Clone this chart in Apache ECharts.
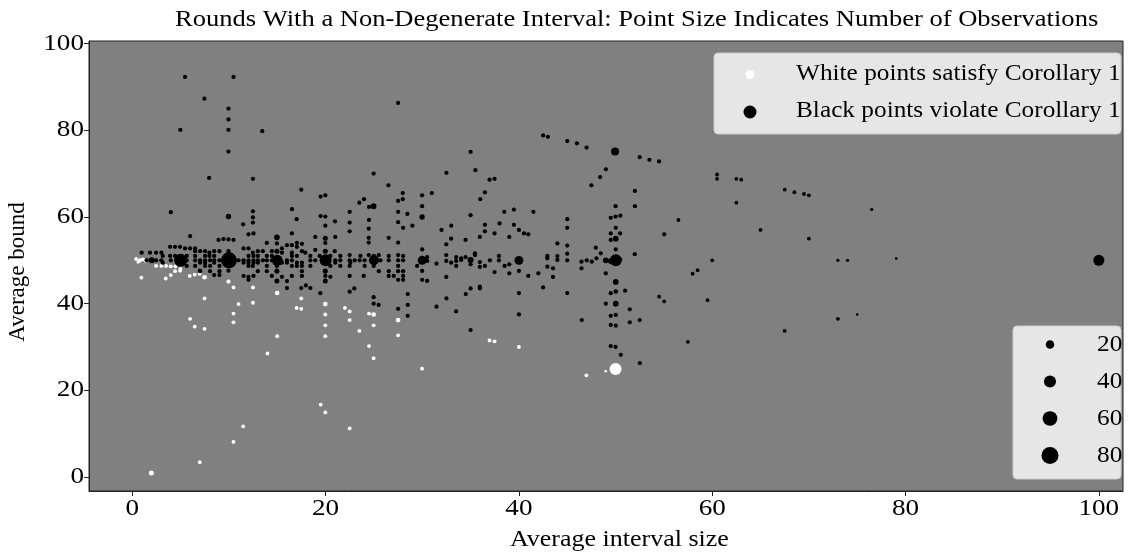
<!DOCTYPE html>
<html>
<head>
<meta charset="utf-8">
<script src="https://cdn.jsdelivr.net/npm/echarts@6/dist/echarts.min.js"></script>
<style>html,body{margin:0;padding:0;background:#fff}#c{width:1135px;height:553px}</style>
</head>
<body>
<div id="c"></div>
<script>
// [average interval size, average bound, number of observations]
const whitePoints = [
[0.4,50.3,4],[0.8,50.0,5],[1.1,50.2,4],[1.4,49.8,3],[0.6,49.6,3],
[2.46,48.7,4],[3.01,48.7,4],[3.49,48.7,4],[3.98,48.6,4],[4.46,48.6,4],[4.42,47.5,4],[4.94,47.6,4],[4.98,48.0,4],
[0.94,46.0,4],[3.46,45.8,4],[3.98,46.6,4],[5.94,46.4,4],[6.46,46.7,4],[6.98,46.9,4],[7.47,46.1,6],
[7.47,41.2,4],[5.98,36.5,4],[6.46,34.7,4],[7.47,34.2,4],[9.95,45.1,5],[10.47,43.75,4],[10.99,39.9,4],[10.47,37.7,4],[10.47,35.7,4],
[12.48,43.75,4],[12.48,40.2,4],[14.99,42.45,6],[14.99,32.5,4],[13.99,28.5,4],[17.0,39.0,4],[17.48,38.8,4],[17.48,41.2,4],
[19.97,39.9,6],[19.97,37.5,4],[19.97,35.0,4],[19.97,32.5,4],[19.49,16.7,4],[19.97,14.9,4],[11.47,11.7,4],[10.47,8.1,4],[6.98,3.4,4],[1.97,0.9,7],
[22.0,39.0,4],[22.49,38.2,4],[22.49,36.2,4],[23.49,33.7,4],[24.49,37.7,4],[24.97,37.5,6],[24.97,35.0,4],[24.49,30.2,4],[24.97,27.4,4],
[27.5,36.2,6],[27.5,32.7,4],[29.98,25.0,4],[36.96,31.5,4],[37.48,31.3,4],[40.0,30.0,4],[46.98,23.45,4],[22.49,11.2,4],
[50.0,24.9,40],[48.98,24.4,2]
];
const blackPoints = [
// upper scatter
[5.46,92.3,5],[10.47,92.3,5],[7.46,87.3,5],[9.95,85.0,5],[9.95,82.5,5],[4.97,80.1,5],[9.95,80.1,5],[13.44,79.8,5],[9.95,75.1,5],
[7.95,69.0,5],[12.48,68.8,5],[17.48,66.3,5],[19.48,64.7,5],[19.97,65.0,5],[3.98,61.1,5],[9.95,60.1,8],[12.48,61.3,5],[12.48,59.9,5],
[12.48,58.7,5],[11.47,58.3,5],[16.52,61.8,5],[17.0,59.5,5],[19.48,60.2,5],[19.97,60.1,5],[19.97,58.0,5],[20.97,59.0,5],
[27.5,86.3,5],[42.5,78.8,5],[43.0,78.5,5],[45.0,77.5,5],[46.0,77.0,5],[47.0,76.0,5],[48.4,69.2,5],[47.5,67.3,5],[35.0,75.0,5],
[32.5,70.2,5],[35.5,70.8,5],[36.96,68.6,5],[37.48,68.8,5],[36.48,65.7,5],[36.0,64.1,5],[24.97,70.0,5],[26.5,67.3,5],[23.97,64.1,5],
[23.49,63.3,5],[24.97,62.5,9],[24.49,62.3,5],[22.49,61.2,5],[22.49,58.7,5],[27.5,63.7,5],[27.98,64.1,5],[27.98,65.5,5],[27.5,61.2,5],
[28.46,60.7,5],[27.5,58.8,5],[28.98,58.0,5],[29.98,65.0,5],[29.98,62.5,5],[29.98,60.0,8],[30.99,65.5,5],[24.49,59.3,5],[33.0,58.0,5],
[35.0,60.4,5],[36.48,58.2,5],[38.0,58.5,5],[38.48,61.2,5],[39.48,61.7,5],[39.48,58.2,5],[41.5,61.2,5],[45.0,59.5,5],
[49.95,75.1,18],[52.5,73.8,5],[53.5,73.2,5],[54.5,72.8,5],[49.0,71.0,5],[52.0,66.0,5],[52.0,62.5,5],[50.0,62.5,5],[49.5,59.8,5],
[50.0,60.1,5],[50.5,60.3,5],[56.5,59.3,4],[60.5,69.8,4],[60.5,68.8,4],[62.5,68.8,4],[63.0,68.6,4],[62.5,63.3,4],[65.0,57.0,4],
[67.5,66.3,4],[68.5,65.7,4],[69.5,65.3,4],[70.0,65.0,4],[70.0,55.0,4],[60.0,50.0,4],[73.0,50.0,3],[74.0,50.0,3],
[49.5,30.2,5],[50.0,30.0,5],[50.54,28.2,5],[52.51,26.3,5],[57.48,31.2,4],[67.5,33.7,4],[73.0,36.5,4],[75.0,37.5,2],[76.5,61.75,3],
[79.04,50.4,2],[100,50,34],
// band x >= 29.5
[31.99,57.0,5],[36.48,56.7,5],[37.48,56.2,5],[40.0,57.0,5],[40.52,56.2,5],[40.97,56.0,5],[45.0,57.5,5],[49.5,56.2,5],[50.02,57.5,5],
[50.47,56.2,5],[55.03,56.0,5],[32.99,55.0,5],[34.48,54.7,5],[35.96,55.4,5],[39.0,55.4,5],[49.5,54.7,5],[50.02,55.0,9],
[32.48,53.7,5],[43.98,53.9,5],[45.0,53.4,5],[47.95,52.9,5],[48.47,51.6,5],[50.02,52.5,5],[51.99,51.4,5],[29.99,52.5,5],
[35.45,51.6,5],[35.45,51.2,5],[37.93,51.0,5],[42.94,51.0,5],[42.94,50.45,5],[43.98,50.99,5],[48.02,50.45,5],
[29.99,50.0,22],[29.47,48.7,5],[30.51,50.76,5],[30.51,49.84,5],[31.47,49.22,5],[32.48,51.22,5],[32.48,49.84,5],[32.99,49.45,5],
[33.51,50.76,5],[33.51,49.84,5],[33.51,48.69,5],[34.03,50.45,5],[34.03,50.07,5],[34.48,50.76,5],[35.0,50.07,10],[35.0,49.07,5],
[35.96,49.6,5],[35.96,48.46,5],[36.48,48.69,5],[37.0,49.99,5],[37.48,47.3,5],[37.93,49.99,5],[38.52,48.69,5],[39.0,49.07,5],
[39.0,47.0,5],[40.0,49.99,22],[40.0,47.54,5],[40.97,46.39,5],[42.01,47.0,5],[42.94,48.53,5],[43.53,48.15,5],[43.53,46.16,5],
[43.98,50.07,5],[45.0,51.52,5],[45.0,49.99,5],[46.47,49.68,5],[46.47,48.15,5],[47.02,49.99,5],[47.54,49.68,5],[48.99,49.99,9],
[48.99,47.0,5],[49.5,49.84,9],[50.02,49.99,40],[50.47,50.22,5],
[29.99,47.54,5],[29.99,45.5,5],[30.51,45.24,5],[32.48,46.16,5],[50.02,45.0,9],[57.97,46.9,4],[58.49,47.7,4],[54.51,41.6,4],
[55.03,40.5,4],[59.52,40.8,4],[49.5,42.4,5],[50.02,42.8,6],[50.99,43.0,5],[48.99,40.0,5],[50.02,40.0,9],[51.47,38.7,5],
[49.5,37.2,5],[50.02,37.4,5],[51.47,35.7,5],[52.5,36.2,5],[49.5,35.1,5],[50.02,34.9,5],
[22.49,42.76,5],[22.97,43.5,5],[24.97,41.5,5],[24.97,40.0,5],[25.49,39.7,5],[28.5,42.2,5],[28.5,39.7,5],[28.5,37.2,5],[27.5,38.8,5],
[31.47,39.3,5],[32.5,41.2,5],[33.5,38.2,5],[34.5,42.2,5],[35.0,43.5,5],[35.96,43.9,5],[35.96,43.5,5],[35.0,33.9,5],[40.0,42.45,5],
[40.0,37.5,5],[42.5,43.75,5],[45.0,42.45,5],[46.5,36.2,5],
// band x < 29.5
[24.46,57.3,5],[28.02,57.5,5],[22.49,56.7,5],[12.02,56.0,5],[12.54,56.2,5],[16.51,56.2,5],[5.98,55.6,5],
[14.96,55.3,9],[18.93,55.4,5],[19.97,55.1,7],[21.0,55.4,5],[24.46,55.2,5],[26.53,55.2,5],
[8.92,54.7,5],[9.43,54.9,5],[9.95,54.8,5],[10.47,54.7,5],
[13.92,54.0,5],[14.96,53.9,5],[17.03,54.0,5],[17.55,53.8,5],[19.97,54.0,5],[24.46,54.1,5],[27.5,54.1,5],[16.0,53.5,5],[16.51,53.5,5],
[3.91,53.1,5],[4.42,53.1,5],[4.94,53.1,5],[17.03,53.1,5],
[5.46,52.75,5],[5.98,52.75,5],[6.5,52.75,5],[11.51,52.75,5],[12.02,52.75,5],[15.48,52.75,5],[18.93,52.4,5],
[6.5,52.1,5],[7.02,52.1,5],[7.53,52.1,5],[8.47,52.1,5],[9.02,52.1,5],[9.95,52.1,5],[12.99,52.1,5],[13.51,52.1,5],[14.44,52.1,5],
[14.96,52.1,7],[17.55,52.1,5],[19.97,52.1,7],[20.94,52.1,5],
[0.97,51.75,5],[1.83,51.75,5],[2.46,51.75,5],[3.01,51.75,5],[7.98,51.75,5],[12.47,51.75,5],[15.48,51.75,5],[16.51,51.75,5],[17.9,51.75,5],
[22.49,51.2,5],[24.46,51.2,5],[25.5,51.2,5],[27.5,51.2,5],
[3.15,51.0,5],[3.91,51.0,5],[4.42,51.0,5],[5.63,51.0,5],[6.5,51.0,5],[7.53,51.0,5],[7.98,51.0,5],[8.47,51.0,5],[12.02,51.0,5],
[12.54,51.0,5],[12.99,51.0,5],[13.92,51.0,5],[14.44,51.0,5],[16.51,51.0,5],[17.03,51.0,5],[18.42,51.0,5],[19.38,51.0,5],[20.49,51.0,5],
[21.52,51.0,5],[23.6,51.0,5],[24.98,51.0,5],[26.53,51.0,5],[28.02,51.0,5],
[1.49,50,5],[2.01,50,10],[2.46,50,5],[3.01,50,5],[3.98,50,5],[5.0,50,47],[5.63,50,5],[6.5,50,5],[7.02,50,5],[7.53,50,5],[8.05,50,5],
[8.47,50,5],[9.02,50,5],[10,50,71],[10.99,50,5],[11.51,50,5],[12.02,50,5],[12.54,50,5],[12.99,50,5],[13.51,50,5],[13.92,50,5],
[14.44,50,5],[15,50,34],[16.0,50,5],[16.51,50,5],[18.42,50,5],[18.93,50,5],[20,50,40],[21.0,50,5],[21.52,50,5],[22.49,50,5],
[23.01,50,5],[23.53,50,5],[24.04,50,5],[25,50,28],[25.67,50,5],[26.53,50,5],[27.5,50,5],[28.02,50,5],
[3.15,49.45,5],[7.02,49.45,5],[7.53,49.45,5],[8.47,49.45,5],[11.51,49.45,5],[12.02,49.45,5],[12.54,49.45,5],[12.99,49.45,5],
[15.48,49.45,5],[16.0,49.45,5],[17.03,49.45,5],[17.55,49.45,5],[21.0,49.45,5],[22.56,49.45,5],
[5.63,48.7,5],[6.5,48.7,5],[7.53,48.7,5],[8.05,48.7,5],[9.02,48.7,5],[9.95,48.7,5],[12.02,48.7,5],[12.47,48.7,5],[13.92,48.7,5],
[14.96,48.7,5],[16.51,48.7,5],[17.03,48.7,5],[17.55,48.7,5],[18.42,48.7,5],[20.49,48.7,5],[21.52,48.7,5],[22.49,48.7,5],[24.04,48.7,5],
[24.98,48.7,5],[27.5,48.7,5],
[7.02,47.5,5],[8.05,47.5,5],[9.02,47.5,5],[9.95,47.6,5],[12.99,47.5,5],[13.92,47.5,5],[14.96,47.5,7],[17.55,47.5,5],[19.97,47.5,7],
[25.5,47.5,5],[26.53,47.5,5],[27.5,47.5,5],[28.02,47.5,5],[6.98,47.6,5],
[9.02,46.6,5],[11.51,46.4,5],[12.02,46.2,5],[12.54,46.4,5],[14.44,46.4,5],[15.48,46.2,5],[16.51,46.4,5],[17.55,46.4,5],[19.97,46.4,5],
[20.49,46.2,5],[12.02,45.5,5],[14.96,45.2,7],[16.0,45.2,5],[19.97,45.2,7],[16.0,43.6,5],[17.48,43.6,5],[18.42,43.6,5],[19.45,42.4,5],
[17.96,44.2,5],[8.47,46.6,5],
[22.49,46.4,5],[23.94,46.4,5],[26.53,46.4,5],[27.05,46.4,5],[28.02,46.4,5],[27.5,45.5,5],[28.02,45.5,5]
];
const xTicks = [0, 20, 40, 60, 80, 100];
const yTicks = [0, 20, 40, 60, 80, 100];
const sizeLegendValues = [20, 40, 60, 80];
const seriesNames = ['White points satisfy Corollary 1', 'Black points violate Corollary 1'];
const titleText = 'Rounds With a Non-Degenerate Interval: Point Size Indicates Number of Observations';
const xAxisName = 'Average interval size';
const yAxisName = 'Average bound';

const FONT = '"Liberation Serif", "Times New Roman", serif';
const FS = 23, SX = 1.13;
const sizeOf = n => 1.9 * Math.sqrt(n);
const txt = (text, x, y, align, valign, extra) => Object.assign({
  type: 'text', x: x, y: y, scaleX: SX, z: 101,
  style: {text: text, font: FS + 'px ' + FONT, fill: '#000', align: align, verticalAlign: valign}
}, extra || {});

const chart = echarts.init(document.getElementById('c'), null, {renderer: 'canvas'});

chart.setOption({
  backgroundColor: '#ffffff',
  animation: false,
  grid: {left: 89, right: 12, top: 41, bottom: 62, show: true, backgroundColor: '#808080', borderColor: '#222', borderWidth: 1},
  xAxis: {
    type: 'value', min: -4.48, max: 102.5,
    axisLine: {show: true, onZero: false, lineStyle: {color: '#222'}},
    axisTick: {show: true, length: 5, customValues: xTicks, lineStyle: {color: '#222'}},
    axisLabel: {show: false},
    splitLine: {show: false}
  },
  yAxis: {
    type: 'value', min: -3.23, max: 100.6,
    axisLine: {show: true, onZero: false, lineStyle: {color: '#222'}},
    axisTick: {show: true, length: 5, customValues: yTicks, lineStyle: {color: '#222'}},
    axisLabel: {show: false},
    splitLine: {show: false}
  },
  series: [
    {name: seriesNames[0], type: 'scatter', data: whitePoints, symbolSize: v => sizeOf(v[2]), itemStyle: {color: '#ffffff', opacity: 1}, z: 2},
    {name: seriesNames[1], type: 'scatter', data: blackPoints, symbolSize: v => sizeOf(v[2]), itemStyle: {color: '#000000', opacity: 1}, z: 3}
  ]
});

const graphics = [];
// title and axis names
graphics.push(txt(titleText, 175, 20, 'left', 'middle', {scaleX: 1.154}));
graphics.push(txt(xAxisName, 510, 540, 'left', 'middle'));
graphics.push(txt(yAxisName, 18, 272, 'center', 'middle', {rotation: Math.PI / 2, scaleX: 1}));
// tick labels placed through the axis scales
xTicks.forEach(v => {
  const px = chart.convertToPixel({xAxisIndex: 0}, v);
  graphics.push(txt(String(v), px, 509, 'center', 'middle', {scaleX: 1.18}));
});
yTicks.forEach(v => {
  const py = chart.convertToPixel({yAxisIndex: 0}, v);
  graphics.push(txt(String(v), 84, py, 'right', 'middle', {scaleX: 1.18}));
});
// legend 1
graphics.push({type:'rect', shape:{x:714, y:53, width:407, height:81, r:4}, style:{fill:'rgba(255,255,255,0.8)', stroke:'#cccccc', lineWidth:1}, z:100});
graphics.push({type:'circle', shape:{cx:750, cy:74.5, r:4.5}, style:{fill:'#ffffff'}, z:101});
graphics.push(txt(seriesNames[0], 796, 74, 'left', 'middle', {scaleX: 1.10}));
graphics.push({type:'circle', shape:{cx:750, cy:112, r:6.5}, style:{fill:'#000000'}, z:101});
graphics.push(txt(seriesNames[1], 796, 111, 'left', 'middle', {scaleX: 1.10}));
// size legend
graphics.push({type:'rect', shape:{x:1013, y:326, width:108, height:153, r:4}, style:{fill:'rgba(255,255,255,0.8)', stroke:'#cccccc', lineWidth:1}, z:100});
sizeLegendValues.forEach((v, i) => {
  const cy = 344.5 + i * 37;
  graphics.push({type:'circle', shape:{cx:1050, cy:cy, r:sizeOf(v)/2}, style:{fill:'#000'}, z:101});
  graphics.push(txt(String(v), 1097, cy, 'left', 'middle', {scaleX: 1.10}));
});
chart.setOption({graphic: graphics});
</script>
</body>
</html>
